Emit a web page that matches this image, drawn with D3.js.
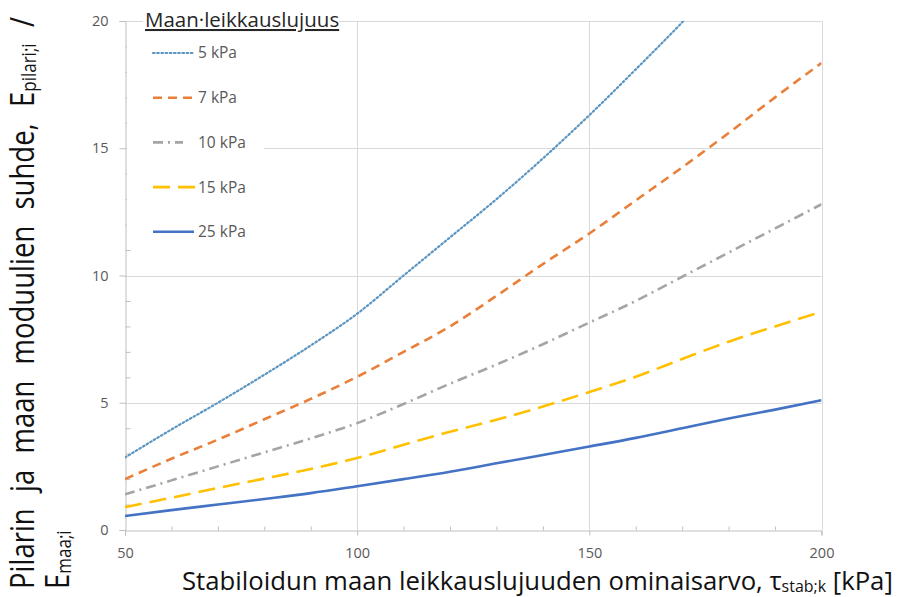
<!DOCTYPE html>
<html>
<head>
<meta charset="utf-8">
<script src="https://cdn.jsdelivr.net/npm/d3@7"></script>
<style>
  body { margin: 0; background: #fff; }
  svg { display: block; }
  text { font-family: "Open Sans", "Noto Sans", sans-serif; }
</style>
</head>
<body>
<svg id="chart" width="898" height="597"></svg>
<script>
// Stabilised soil shear strength (kPa) at which the ratios are given
const tauStab = [50, 60, 70, 80, 90, 100, 110, 120, 130, 140, 150, 160, 170, 180, 190, 200];

// Modulus ratio E_pilari / E_maa for each soil shear strength
const ratio5kPa  = [2.85, 3.95, 5.0, 6.1, 7.25, 8.5, 10.0, 11.5, 13.0, 14.6, 16.3, 18.1, 19.95, 21.9];
const ratio7kPa  = [2.0, 2.8, 3.55, 4.35, 5.15, 6.02, 7.0, 8.0, 9.2, 10.45, 11.65, 12.95, 14.25, 15.6, 17.0, 18.35];
const ratio10kPa = [1.4, 1.95, 2.5, 3.05, 3.6, 4.2, 4.95, 5.75, 6.5, 7.3, 8.15, 9.0, 9.95, 10.9, 11.85, 12.8];
const ratio15kPa = [0.9, 1.27, 1.65, 2.02, 2.4, 2.83, 3.35, 3.86, 4.33, 4.85, 5.42, 6.02, 6.72, 7.4, 8.0, 8.57];
const ratio25kPa = [0.55, 0.78, 1.0, 1.22, 1.45, 1.72, 2.0, 2.29, 2.62, 2.95, 3.28, 3.62, 4.0, 4.38, 4.73, 5.1];

const seriesNames = ["5 kPa", "7 kPa", "10 kPa", "15 kPa", "25 kPa"];
const seriesColors = ["#5b95c2", "#ea7f3a", "#a5a5a5", "#ffc000", "#4472c4"];
const seriesDashes = ["1.6,2.6", "9,6", "10,5,2,5", "17,8", null];

const xTicks = [50, 100, 150, 200];
const yTicks = [0, 5, 10, 15, 20];

const legendTitle = "Maan·leikkauslujuus";

const svg = d3.select("#chart");

const x = d3.scaleLinear().domain([50, 200]).range([125, 821.5]);
const y = d3.scaleLinear().domain([0, 20]).range([530, 21]);

const series = [ratio5kPa, ratio7kPa, ratio10kPa, ratio15kPa, ratio25kPa].map((vals, i) => ({
  name: seriesNames[i],
  color: seriesColors[i],
  dash: seriesDashes[i],
  points: vals.map((v, j) => ({ x: tauStab[j], y: v }))
}));

// gridlines
const grid = svg.append("g").attr("stroke", "#d9d9d9").attr("stroke-width", 1);
grid.selectAll("line.h").data(yTicks.filter(d => d > 0)).join("line")
  .attr("x1", x(50)).attr("x2", x(200))
  .attr("y1", d => Math.round(y(d)) + 0.5).attr("y2", d => Math.round(y(d)) + 0.5);
grid.selectAll("line.v").data(xTicks.filter(d => d > 50)).join("line")
  .attr("y1", y(0)).attr("y2", y(20))
  .attr("x1", d => Math.round(x(d)) + 0.5).attr("x2", d => Math.round(x(d)) + 0.5);

// axes
const axisColor = "#bfbfbf";
const xAxis = svg.append("g").attr("transform", `translate(0,${Math.round(y(0)) + 0.5})`)
  .call(d3.axisBottom(x).tickValues(xTicks).tickSize(5).tickPadding(12).tickFormat(d3.format("d")));
const xMinor = svg.append("g").attr("transform", `translate(0,${Math.round(y(0)) + 0.5})`)
  .call(d3.axisBottom(x).tickValues(d3.range(60, 200, 10).filter(v => v % 50 !== 0)).tickSize(-4).tickFormat(""));
const yAxis = svg.append("g").attr("transform", `translate(${Math.round(x(50)) + 0.5},0)`)
  .call(d3.axisLeft(y).tickValues(yTicks).tickSize(6).tickPadding(11).tickFormat(d3.format("d")));
const yMinor = svg.append("g").attr("transform", `translate(${Math.round(x(50)) + 0.5},0)`)
  .call(d3.axisLeft(y).tickValues(d3.range(1, 20).filter(v => v % 5 !== 0)).tickSize(-5).tickFormat(""));

[xAxis, xMinor, yAxis, yMinor].forEach(g => {
  g.selectAll("path").attr("stroke", axisColor);
  g.selectAll("line").attr("stroke", axisColor);
  g.selectAll("text").attr("fill", "#595959").style("font-size", "14.5px");
});
xMinor.select("path").remove();
yMinor.select("path").remove();

// plot clip
svg.append("clipPath").attr("id", "plotClip")
  .append("rect").attr("x", x(50)).attr("y", y(20)).attr("width", x(200) - x(50)).attr("height", y(0) - y(20));

const line = d3.line().x(d => x(d.x)).y(d => y(d.y)).curve(d3.curveMonotoneX);

svg.append("g").attr("clip-path", "url(#plotClip)")
  .selectAll("path").data(series).join("path")
  .attr("d", d => line(d.points))
  .attr("fill", "none")
  .attr("stroke", d => d.color)
  .attr("stroke-width", (d, i) => i === 0 ? 2.2 : 2.6)
  .attr("stroke-linecap", (d, i) => i === 0 ? "round" : "butt")
  .attr("stroke-dasharray", d => d.dash);

// legend
const legend = svg.append("g");
legend.append("rect").attr("x", 143).attr("y", 4).attr("width", 196).attr("height", 30).attr("fill", "#fff");
legend.append("rect").attr("x", 127).attr("y", 34).attr("width", 137).attr("height", 212).attr("fill", "#fff");
legend.append("text").attr("x", 145).attr("y", 27)
  .attr("fill", "#262626").style("font-size", "20.5px").style("text-decoration", "underline")
  .text(legendTitle);

const legendY = i => 53 + i * 44.7;
const legendLineEnd = [193, 195, 183, 195, 194];
const item = legend.selectAll("g.item").data(series).join("g").attr("class", "item");
item.append("line")
  .attr("x1", 153).attr("x2", (d, i) => legendLineEnd[i])
  .attr("y1", (d, i) => legendY(i)).attr("y2", (d, i) => legendY(i))
  .attr("stroke", d => d.color)
  .attr("stroke-width", (d, i) => i === 0 ? 2.2 : 2.6)
  .attr("stroke-linecap", (d, i) => i === 0 ? "round" : "butt")
  .attr("stroke-dasharray", d => d.dash);
item.append("text")
  .attr("x", 198).attr("y", (d, i) => legendY(i)).attr("dy", "0.35em")
  .attr("fill", "#595959").style("font-size", "15.5px")
  .text(d => d.name);

// x axis title, sized to span its full width
const xTitle = svg.append("text").attr("x", 182).attr("y", 590).attr("fill", "#111");
const xMain1 = xTitle.append("tspan").text("Stabiloidun maan leikkauslujuuden ominaisarvo, τ");
const xSub = xTitle.append("tspan").attr("dy", 2).text("stab;k");
const xMain2 = xTitle.append("tspan").attr("dy", -2).text(" [kPa]");
function sizeXTitle(s) {
  xMain1.style("font-size", s + "px");
  xMain2.style("font-size", s + "px");
  xSub.style("font-size", (s * 0.62) + "px");
}
sizeXTitle(24);
const xw = xTitle.node().getComputedTextLength();
sizeXTitle(24 * 711 / xw);

// y axis title: two rotated lines, glyphs drawn slightly tall, words spread along the axis
const yTitle = svg.append("text").attr("transform", "translate(34,589) rotate(-90) scale(1,1.2)")
  .attr("fill", "#111").style("font-size", "27.5px");
const yLine1 = [
  yTitle.append("tspan").attr("x", 0).attr("y", 0).text("Pilarin ja maan moduulien suhde, E"),
  yTitle.append("tspan").attr("dy", 2).style("font-size", "17px").text("pilari;i"),
  yTitle.append("tspan").attr("dy", -2).text(" /")
];
yTitle.append("tspan").attr("x", 0).attr("y", 29).text("E");
yTitle.append("tspan").attr("dy", 2).style("font-size", "17px").text("maa;i");
const line1Len = yLine1.reduce((s, t) => s + t.node().getComputedTextLength(), 0);
const spaces = 6;
const extra = Math.max(0, (572 - line1Len) / spaces);
yLine1.forEach(t => t.style("word-spacing", extra + "px"));
</script>
</body>
</html>
